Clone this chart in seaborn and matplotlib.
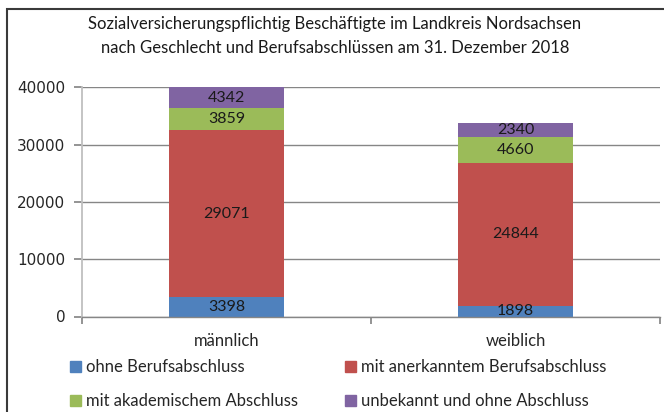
import numpy as np
import pandas as pd
import seaborn as sns
import matplotlib.pyplot as plt
from matplotlib.patches import Patch, Rectangle

# data
geschlecht = ["männlich", "weiblich"]
ohne_abschluss = [3398, 1898]
anerkannt = [29071, 24844]
akademisch = [3859, 4660]
unbekannt = [4342, 2340]

serien = ["ohne Berufsabschluss", "mit anerkanntem Berufsabschluss",
          "mit akademischem Abschluss", "unbekannt und ohne Abschluss"]
farben = ["#4F81BD", "#C0504D", "#9BBB59", "#8064A2"]

y_ticks = [0, 10000, 20000, 30000, 40000]
titel = ("Sozialversicherungspflichtig Beschäftigte im Landkreis Nordsachsen\n"
         "nach Geschlecht und Berufsabschlüssen am 31. Dezember 2018")

TXT = "Lato"
YMAX = 40000

sns.set_theme(style="white")
plt.rcParams['font.family'] = ['Lato', 'DejaVu Sans']

df = pd.DataFrame({"geschlecht": geschlecht,
                   serien[0]: ohne_abschluss,
                   serien[1]: anerkannt,
                   serien[2]: akademisch,
                   serien[3]: unbekannt})

fig = plt.figure(figsize=(6.64, 4.12), dpi=100)
ax = fig.add_axes([82/664, 1 - 316.5/412, (660-82)/664, (316.5-87.3)/412])

unten = np.zeros(len(df))
for name, farbe in zip(serien, farben):
    werte = df[name].to_numpy()
    sns.barplot(x=df["geschlecht"], y=werte, bottom=unten, color=farbe,
                width=0.4, saturation=1, ax=ax, edgecolor="none", linewidth=0)
    # label in the middle of the visible part of each segment
    for i, (b, v) in enumerate(zip(unten, werte)):
        top = min(b + v, YMAX)
        ax.text(i, (b + top) / 2, str(v), ha="center", va="center",
                fontsize=11.5, color="#1a1a1a", family=TXT, clip_on=False)
    unten = unten + werte

ax.set_ylim(0, YMAX)
ax.set_xlim(-0.5, 1.5)
ax.set_yticks(y_ticks)
ax.set_yticklabels([str(t) for t in y_ticks], family="DejaVu Sans", fontsize=11)
ax.yaxis.grid(True, color="#868686", linewidth=1)
ax.set_axisbelow(True)
ax.set_xlabel("")
ax.set_ylabel("")

# category ticks at boundaries, labels in the middle
ax.set_xticks([-0.5, 0.5, 1.5], minor=False)
ax.set_xticklabels(["", "", ""])
ax.set_xticks([0, 1], minor=True)
ax.set_xticklabels(geschlecht, minor=True, family=TXT, fontsize=12)
ax.tick_params(axis="x", which="major", length=5, color="#868686", direction="out", bottom=True)
ax.tick_params(axis="x", which="minor", length=0, pad=12, bottom=True)
ax.tick_params(axis="y", length=6, color="#868686", direction="out", left=True, pad=6)

for s in ["top", "right"]:
    ax.spines[s].set_visible(False)
ax.spines["left"].set_color("#BFBFBF")
ax.spines["left"].set_linewidth(1.3)
ax.spines["bottom"].set_color("#868686")
ax.spines["bottom"].set_linewidth(1)

fig.text(335/664, 1 - 36/412, titel, ha="center", va="center",
         fontsize=12, family=TXT, linespacing=1.55, color="#1a1a1a")

# legend: matplotlib fills column by column
handles = [Patch(color=farben[0]), Patch(color=farben[2]),
           Patch(color=farben[1]), Patch(color=farben[3])]
labels = [serien[0], serien[2], serien[1], serien[3]]
fig.legend(handles, labels, ncol=2, loc="upper left",
           bbox_to_anchor=(70/664, 1 - 359/412), frameon=False,
           prop={"family": TXT, "size": 12}, handlelength=0.66, handleheight=0.66,
           handletextpad=0.3, columnspacing=2.8, labelspacing=1.1,
           borderpad=0, borderaxespad=0)

# outer chart frame (cut at right and bottom like the reference)
fig.patches.append(Rectangle((7/664, -0.1), 1.2, 1 - 9/412 + 0.1, transform=fig.transFigure,
                             fill=False, edgecolor="#3a3a3a", linewidth=1.5))

fig.savefig("out.png", dpi=100)
